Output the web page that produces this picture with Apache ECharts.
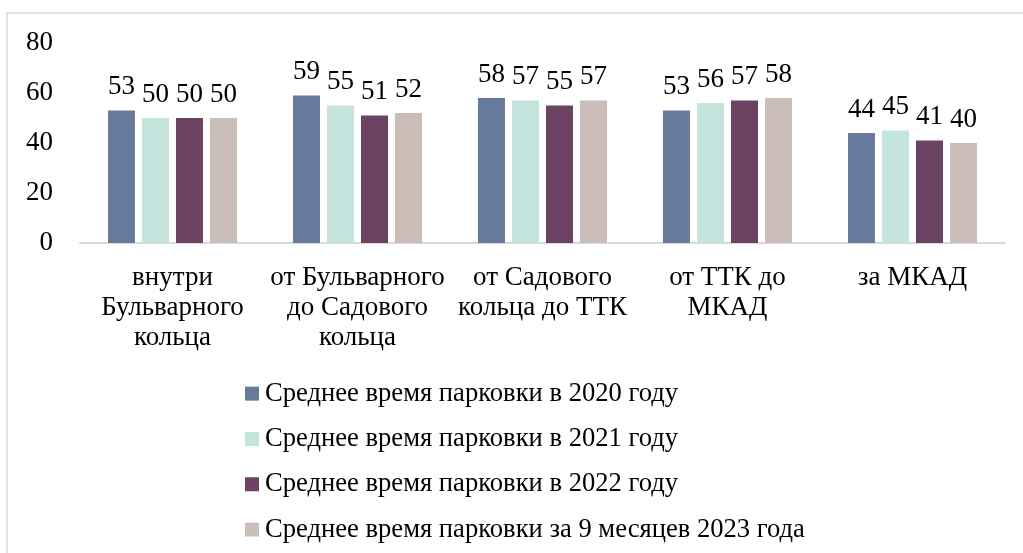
<!DOCTYPE html>
<html>
<head>
<meta charset="utf-8">
<script src="https://cdn.jsdelivr.net/npm/echarts@6/dist/echarts.min.js"></script>
<style>
  html, body { margin: 0; padding: 0; background: #fff; }
  #chart { width: 1023px; height: 553px; }
</style>
</head>
<body>
<div id="chart"></div>
<script>
// категории и значения
var categories = ['внутри\nБульварного\nкольца', 'от Бульварного\nдо Садового\nкольца', 'от Садового\nкольца до ТТК', 'от ТТК до\nМКАД', 'за МКАД']
var seriesNames = [
  'Среднее время парковки в 2020 году',
  'Среднее время парковки в 2021 году',
  'Среднее время парковки в 2022 году',
  'Среднее время парковки за 9 месяцев 2023 года'
]
var values2020 = [53, 59, 58, 53, 44]
var values2021 = [50, 55, 57, 56, 45]
var values2022 = [50, 51, 55, 57, 41]
var values2023 = [50, 52, 57, 58, 40]
var yTicks = [0, 20, 40, 60, 80]

var colors = ['#687a9c', '#c3e5de', '#6b4262', '#cbbeb9']
var font = 'Liberation Serif'

var chart = echarts.init(document.getElementById('chart'))

function makeSeries(name, data, color) {
  return {
    name: name,
    type: 'bar',
    data: data,
    barWidth: 27,
    barGap: '26%',
    animation: false,
    itemStyle: { color: color },
    label: {
      show: true,
      position: 'top',
      distance: 10,
      color: '#000',
      fontFamily: font,
      fontSize: 27
    }
  }
}

var option = {
  backgroundColor: '#fff',
  // рамка вокруг диаграммы
  graphic: [{
    type: 'rect',
    shape: { x: 7, y: 13, width: 1030, height: 560 },
    style: { fill: 'none', stroke: '#d9d9d9', lineWidth: 1.5 },
    silent: true
  }],
  grid: {
    left: 80,
    right: 18,
    top: 43,
    height: 200
  },
  legend: {
    orient: 'vertical',
    left: 240,
    top: 375,
    itemWidth: 14,
    itemHeight: 14,
    itemGap: 18,
    icon: 'rect',
    textStyle: {
      fontFamily: font,
      fontSize: 26.6,
      color: '#000',
      lineHeight: 27.3,
      padding: [0, 0, 0, 1]
    },
    data: seriesNames
  },
  xAxis: {
    type: 'category',
    data: categories,
    axisLine: { lineStyle: { color: '#d9d9d9', width: 2 } },
    axisTick: { show: false },
    axisLabel: {
      margin: 20,
      color: '#000',
      fontFamily: font,
      fontSize: 27,
      lineHeight: 30,
      interval: 0
    }
  },
  yAxis: {
    type: 'value',
    min: yTicks[0],
    max: yTicks[yTicks.length - 1],
    interval: 20,
    splitLine: { show: false },
    axisLine: { show: false },
    axisTick: { show: false },
    axisLabel: {
      margin: 27,
      color: '#000',
      fontFamily: font,
      fontSize: 27
    }
  },
  series: [
    makeSeries(seriesNames[0], values2020, colors[0]),
    makeSeries(seriesNames[1], values2021, colors[1]),
    makeSeries(seriesNames[2], values2022, colors[2]),
    makeSeries(seriesNames[3], values2023, colors[3])
  ]
}
option && chart.setOption(option)
</script>
</body>
</html>
